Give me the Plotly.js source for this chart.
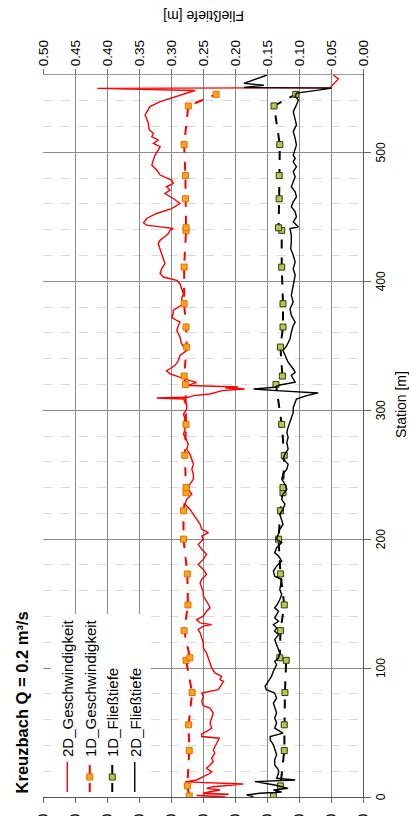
<!DOCTYPE html>
<html><head><meta charset="utf-8">
<script src="https://cdn.plot.ly/plotly-3.0.1.min.js"></script>
<style>
html,body{margin:0;padding:0;overflow:hidden;background:#fff;width:409px;height:816px;}
#wrap{position:absolute;left:0;top:0;width:816px;height:409px;transform-origin:0 0;transform:translateY(816px) rotate(-90deg);}
#chart{width:816px;height:409px;}
</style></head><body>
<div id="wrap"><div id="chart"></div></div>
<script>
const vel2dStation = [
0,1.2,2.1,2.9,4.1,5.4,6.7,8.0,10.1,11.7,
13.2,15.8,18.4,19.7,22.3,24.9,27.5,30.1,34.0,36.5,
39.1,41.7,45.6,46.9,49.0,50.8,53.4,57.3,61.2,65.1,
68.9,70.8,74.1,78.0,80.6,83.2,87.1,89.7,91.0,93.6,
96.2,100.1,103.9,107.8,111.7,115.6,119.5,123.4,127.3,129.9,
132.5,133.7,135.0,137.6,140.2,144.1,146.7,149.3,153.2,155.8,
158.4,162.3,166.1,168.7,172.6,176.5,180.4,184.3,188.2,192.1,
196.0,199.8,202.4,205.0,207.6,211.5,215.4,219.3,223.2,227.1,
230.9,234.8,238.7,242.6,246.5,250.4,254.3,258.2,262.1,265.9,
269.8,273.7,277.6,281.5,285.4,289.3,293.2,297.0,300.9,304.7,
306.1,308.7,309.5,310.0,311.3,312.6,315.2,316.5,317.2,318.0,
319.2,321.6,323.0,325.5,328.1,330.6,334.6,338.5,342.4,346.3,
351.5,356.7,361.8,365.7,368.3,369.6,372.2,374.8,377.4,382.6,
386.5,390.4,394.2,398.1,400.7,403.3,405.9,409.8,413.7,417.6,
421.4,425.3,429.2,431.8,434.4,437.0,439.6,440.9,442.2,443.5,
445.3,448.7,452.6,456.4,460.3,464.2,468.1,470.7,473.3,475.9,
478.5,482.4,486.3,490.2,494.0,497.9,501.8,504.4,507.0,509.6,
512.2,514.8,517.4,522.6,529.0,535.5,539.4,543.3,548.0,549.6,
550.2,557.0,560.0];
const vel2dValue = [
0.43,0.52,0.42,0.50,0.478,0.447,0.489,0.468,0.374,0.556,
0.520,0.499,0.478,0.473,0.489,0.478,0.468,0.473,0.463,0.468,
0.463,0.457,0.449,0.504,0.504,0.489,0.473,0.478,0.473,0.468,
0.478,0.499,0.504,0.499,0.504,0.452,0.442,0.436,0.447,0.442,
0.463,0.473,0.478,0.483,0.489,0.499,0.499,0.504,0.509,0.515,
0.499,0.473,0.509,0.520,0.499,0.489,0.478,0.483,0.494,0.499,
0.499,0.504,0.509,0.504,0.489,0.499,0.515,0.499,0.489,0.504,
0.515,0.499,0.504,0.483,0.504,0.509,0.520,0.530,0.541,0.556,
0.551,0.535,0.546,0.541,0.530,0.530,0.535,0.530,0.535,0.541,
0.551,0.546,0.553,0.561,0.556,0.561,0.556,0.561,0.551,0.551,
0.556,0.560,0.645,0.546,0.530,0.478,0.440,0.370,0.430,0.390,
0.546,0.520,0.540,0.571,0.603,0.614,0.588,0.577,0.572,0.551,
0.567,0.572,0.582,0.577,0.572,0.582,0.598,0.593,0.593,0.561,
0.567,0.561,0.567,0.572,0.582,0.624,0.634,0.629,0.619,0.624,
0.629,0.634,0.640,0.634,0.619,0.608,0.603,0.593,0.634,0.676,
0.686,0.676,0.645,0.598,0.572,0.593,0.619,0.603,0.614,0.593,
0.598,0.634,0.645,0.660,0.655,0.650,0.640,0.634,0.655,0.640,
0.660,0.655,0.668,0.671,0.681,0.666,0.634,0.582,0.525,0.830,
0.103,0.077,0.093];

const depth2dStation = [
0.3,1.6,2.9,3.9,5.4,6.7,9.3,11.9,13.2,14.5,
18.4,21.0,24.9,28.8,32.7,36.5,40.4,44.3,46.9,49.5,
53.4,57.3,61.2,65.1,68.9,72.8,76.7,80.6,83.2,85.8,
89.7,93.6,97.5,100.1,102.6,105.2,107.8,111.7,114.3,118.2,
122.1,126.0,128.6,131.2,133.7,136.3,138.9,141.5,144.1,146.7,
149.3,153.2,157.1,161.0,164.9,168.7,171.3,175.2,179.1,183.0,
186.9,189.5,193.4,197.3,199.8,203.7,207.6,211.5,215.4,219.3,
223.2,227.1,230.9,234.8,238.7,242.6,246.5,250.4,254.3,258.2,
262.1,265.9,269.8,275.0,278.9,282.8,286.7,290.6,294.5,298.3,
302.2,306.1,308.7,311.3,313.4,315.2,316.5,317.8,319.6,321.7,
324.3,326.9,329.4,332.0,337.2,342.4,346.3,350.2,355.4,360.5,
365.7,368.3,373.5,378.7,383.9,389.1,394.2,399.4,404.6,409.8,
415.0,420.2,425.3,430.5,435.7,440.9,442.2,446.1,450.0,453.9,
457.8,461.6,465.5,469.4,473.3,477.2,481.1,485.0,488.8,492.7,
495.3,497.9,505.7,510.9,516.1,521.3,526.4,531.6,536.8,540.7,
543.3,545.9,548.5,549.8,550.3,552.0,553.5,560.0];
const depth2dValue = [
0.171,0.182,0.161,0.127,0.140,0.117,0.138,0.169,0.106,0.135,
0.132,0.132,0.138,0.138,0.135,0.138,0.140,0.145,0.145,0.125,
0.138,0.135,0.138,0.135,0.138,0.140,0.135,0.138,0.151,0.153,
0.148,0.143,0.140,0.138,0.135,0.138,0.132,0.130,0.132,0.135,
0.138,0.132,0.138,0.135,0.140,0.132,0.138,0.135,0.132,0.138,
0.134,0.130,0.127,0.130,0.129,0.127,0.138,0.140,0.135,0.127,
0.132,0.138,0.135,0.127,0.135,0.132,0.130,0.125,0.127,0.130,
0.125,0.122,0.127,0.125,0.119,0.122,0.127,0.125,0.119,0.117,
0.125,0.122,0.117,0.119,0.117,0.119,0.117,0.114,0.112,0.109,
0.109,0.106,0.104,0.088,0.070,0.135,0.171,0.138,0.130,0.106,
0.109,0.112,0.106,0.109,0.117,0.122,0.125,0.119,0.114,0.112,
0.109,0.106,0.112,0.114,0.109,0.112,0.110,0.109,0.106,0.109,
0.106,0.109,0.113,0.112,0.112,0.114,0.101,0.109,0.104,0.106,
0.112,0.109,0.104,0.106,0.112,0.109,0.106,0.109,0.104,0.109,
0.106,0.109,0.104,0.106,0.109,0.104,0.106,0.109,0.104,0.101,
0.106,0.104,0.067,0.049,0.186,0.155,0.186,0.150];

const station1D = [0.8,8.6,36,56,81,106,108,129,149,173,200,222,236,240,265,289,320,326.5,349,364.5,382.6,411,439.5,441.5,464,482,506,536,545];
const vel1D = [0.543,0.549,0.543,0.545,0.534,0.553,0.541,0.559,0.547,0.549,0.561,0.561,0.553,0.553,0.557,0.553,0.555,0.559,0.551,0.553,0.559,0.559,0.553,0.553,0.555,0.555,0.559,0.546,0.459];
const depth1D = [0.140,0.129,0.123,0.123,0.122,0.120,0.130,0.129,0.123,0.129,0.132,0.129,0.125,0.125,0.123,0.127,0.136,0.126,0.129,0.125,0.125,0.127,0.127,0.132,0.131,0.131,0.130,0.139,0.105];

const seriesNames = ['2D_Geschwindigkeit','1D_Geschwindigkeit','1D_Fließtiefe','2D_Fließtiefe'];
const chartTitle = '<b>Kreuzbach Q = 0.2 m³/s</b>';
const xTitle = 'Station [m]';
const y2Title = 'Fließtiefe [m]';

const data = [
 {name:seriesNames[0], x:vel2dStation, y:vel2dValue, yaxis:'y', mode:'lines', legendgroup:'a',
  line:{color:'#ff0000', width:1.4}},
 {name:seriesNames[1], x:station1D, y:vel1D, yaxis:'y', mode:'lines+markers', legendgroup:'b',
  line:{color:'#ff0000', width:2, dash:'dash'},
  marker:{symbol:'square', size:6, color:'#ffa31a', line:{color:'#e07000', width:1}}},
 {name:seriesNames[2], x:station1D, y:depth1D, yaxis:'y2', mode:'lines+markers', legendgroup:'c',
  line:{color:'#000000', width:2, dash:'dash'},
  marker:{symbol:'square', size:6, color:'#b5c94a', line:{color:'#2f3d12', width:1}}},
 {name:seriesNames[3], x:depth2dStation, y:depth2dValue, yaxis:'y2', mode:'lines', legendgroup:'d',
  line:{color:'#000000', width:1.4}}
];

const layout = {
 width:816, height:409,
 margin:{l:19, r:75, t:43, b:46, pad:0},
 paper_bgcolor:'#ffffff', plot_bgcolor:'#ffffff',
 font:{family:'Liberation Sans, Arial, sans-serif', color:'#000', size:13},
 showlegend:true,
 title:{text:chartTitle, x:0.005, xref:'paper', xanchor:'left', y:0.946, yref:'container', yanchor:'middle',
  font:{size:16.5, color:'#000'}},
 xaxis:{range:[0,560], dtick:100, tick0:0, automargin:false, showgrid:true, gridcolor:'#8c8c8c', gridwidth:1,
  ticks:'outside', ticklen:7, tickcolor:'#666', tickwidth:1, showline:true, linecolor:'#555', linewidth:1,
  zeroline:false, tickfont:{size:12},
  minor:{dtick:20, tick0:0, showgrid:true, gridcolor:'#dadada', griddash:'dash', gridwidth:1, ticks:''}},
 yaxis:{range:[0,1], dtick:0.1, tick0:0, tickformat:'.2f', automargin:false, showgrid:true, gridcolor:'#8c8c8c',
  gridwidth:1, ticks:'outside', ticklen:5, tickcolor:'#666', showline:true, linecolor:'#555', zeroline:false,
  ticklabelstandoff:8, tickfont:{size:14}},
 yaxis2:{range:[0,0.5], dtick:0.05, tick0:0, tickformat:'.2f', overlaying:'y', side:'right', automargin:false,
  showgrid:false, ticks:'outside', ticklen:5, tickcolor:'#666', showline:true, linecolor:'#999', zeroline:false,
  tickfont:{size:13.5}},
 legend:{x:0, xanchor:'left', y:0.975, yanchor:'top', bgcolor:'#ffffff', borderwidth:0,
  font:{size:15}, tracegroupgap:3, traceorder:'normal'},
 annotations:[
  {text:xTitle, xref:'paper', yref:'paper', x:0.543, y:-0.119, showarrow:false, xanchor:'center', yanchor:'middle', font:{size:14}},
  {text:y2Title, textangle:-90, xref:'paper', yref:'paper', x:1.0817, y:0.5, showarrow:false, xanchor:'center', yanchor:'middle', font:{size:14}}
 ]
};
Plotly.newPlot('chart', data, layout, {staticPlot:true, displayModeBar:false});
</script>
</body></html>
